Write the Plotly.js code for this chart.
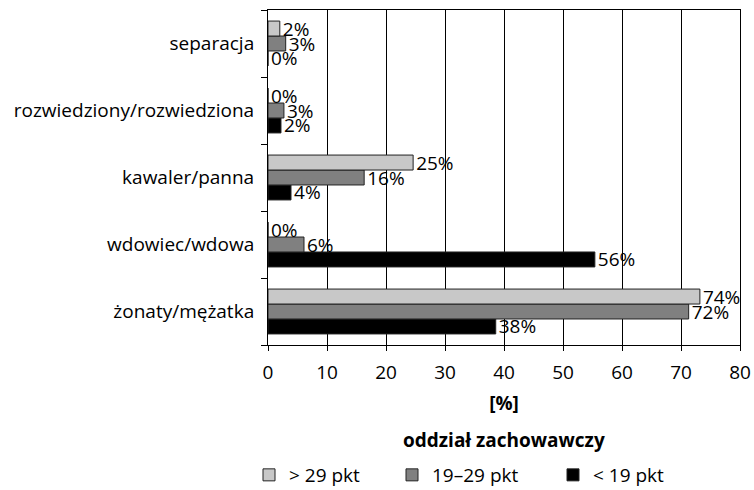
<!DOCTYPE html>
<html>
<head>
<meta charset="utf-8">
<script src="https://cdn.plot.ly/plotly-3.0.1.min.js"></script>
<style>html,body{margin:0;padding:0;background:#fff;}#chart{width:754px;height:490px;}</style>
</head>
<body>
<div id="chart"></div>
<script>
const categories = ["żonaty/mężatka", "wdowiec/wdowa", "kawaler/panna", "rozwiedziony/rozwiedziona", "separacja"];
const seriesNames = ["> 29 pkt", "19–29 pkt", "< 19 pkt"];
const valuesHigh = [73.2, 0, 24.6, 0, 2.0];
const valuesMid = [71.3, 6.1, 16.3, 2.7, 3.0];
const valuesLow = [38.6, 55.4, 3.9, 2.2, 0];
const labelsHigh = ["74%", "0%", "25%", "0%", "2%"];
const labelsMid = ["72%", "6%", "16%", "3%", "3%"];
const labelsLow = ["38%", "56%", "4%", "2%", "0%"];
const xTicks = [0, 10, 20, 30, 40, 50, 60, 70, 80];

const FONT = "Open Sans, sans-serif";
const FS = 19;
function mk(name, vals, labels, color, legendId) {
  return {
    type: "bar", orientation: "h", name: name,
    y: categories, x: vals, text: labels,
    textposition: "outside", cliponaxis: false, constraintext: "none",
    textfont: {family: FONT, size: FS, color: "#000"},
    marker: {color: color, line: {color: "#222", width: 1}},
    legend: legendId, hoverinfo: "skip"
  };
}
const data = [
  mk(seriesNames[2], valuesLow, labelsLow, "#000000", "legend3"),
  mk(seriesNames[1], valuesMid, labelsMid, "#808080", "legend2"),
  mk(seriesNames[0], valuesHigh, labelsHigh, "#c8c8c8", "legend")
];
function leg(xpx) {
  return {
    orientation: "h", xref: "container", x: xpx / 754, xanchor: "left",
    yref: "container", y: 15 / 490, yanchor: "middle",
    font: {family: FONT, size: FS}, itemwidth: 30, bgcolor: "rgba(0,0,0,0)"
  };
}
const layout = {
  width: 754, height: 490,
  margin: {l: 268, r: 14, t: 10, b: 145, autoexpand: false},
  paper_bgcolor: "#fff", plot_bgcolor: "#fff",
  font: {family: FONT, size: FS, color: "#000"},
  barmode: "group", bargap: 0.33, bargroupgap: 0,
  showlegend: true,
  xaxis: {
    range: [0, 80], tickvals: xTicks, ticktext: xTicks.map(String),
    showgrid: true, gridcolor: "#000", gridwidth: 1,
    showline: true, linecolor: "#000", mirror: true,
    ticks: "outside", ticklen: 5, tickcolor: "#000",
    ticklabelstandoff: 5,
    zeroline: false, fixedrange: true,
    tickfont: {family: FONT, size: FS},
    title: {text: "<b>[%]</b>", font: {family: FONT, size: FS}, standoff: 12}
  },
  yaxis: {
    showgrid: false, showline: true, linecolor: "#000", mirror: true,
    ticks: "outside", tickson: "boundaries", ticklen: 6, tickcolor: "#000",
    ticklabelstandoff: 9,
    zeroline: false, fixedrange: true,
    tickfont: {family: FONT, size: FS}
  },
  legend: leg(249),
  legend2: leg(392),
  legend3: leg(553),
  annotations: [{
    text: "<b>oddział zachowawczy</b>", xref: "paper", yref: "paper",
    x: 0.5, y: -95 / 335, xanchor: "center", yanchor: "middle", showarrow: false,
    font: {family: FONT, size: FS}
  }]
};
Plotly.newPlot("chart", data, layout, {displayModeBar: false, staticPlot: true});
</script>
</body>
</html>
